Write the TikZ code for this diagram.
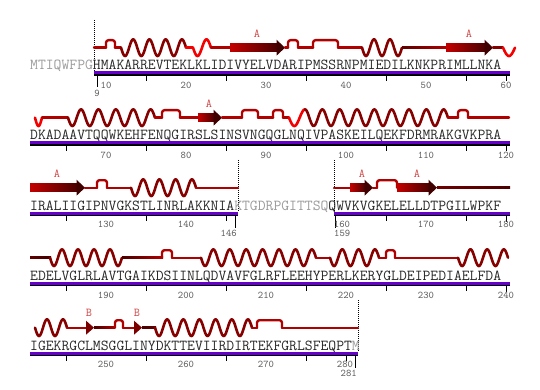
\documentclass[tikz,border=0pt]{standalone}
\usepackage{fontspec}
\definecolor{coilc}{RGB}{176,0,0}
\definecolor{helixc}{RGB}{135,0,0}
\definecolor{redc}{RGB}{245,0,0}
\definecolor{darkc}{RGB}{95,0,0}
\definecolor{strL}{RGB}{195,0,0}
\definecolor{strR}{RGB}{75,0,0}
\definecolor{strH}{RGB}{65,0,0}
\definecolor{barc}{RGB}{102,0,204}
\definecolor{seqc}{RGB}{40,40,40}
\definecolor{greyc}{RGB}{155,155,155}
\definecolor{numc}{RGB}{90,90,90}
\definecolor{labc}{RGB}{210,70,70}
\tikzset{
 coilst/.style={line width=2.4pt, coilc, line cap=round, line join=round},
 helst/.style={line width=2.6pt, line cap=round, line join=round},
 dashv/.style={black, line width=0.7pt, dash pattern=on 1pt off 1pt},
 seqtext/.style={anchor=base west, inner sep=0pt, font=\ttfamily\fontsize{15.24}{16}\selectfont, text=seqc},
 numtext/.style={inner sep=0pt, font=\ttfamily\fontsize{10.2}{11}\selectfont, text=numc},
 sslab/.style={inner sep=0pt, font=\ttfamily\fontsize{12}{13}\selectfont, text=labc},
 tickst/.style={black, line width=0.8pt},
}
\newcommand\cl[4][coilc]{\draw[coilst,#1] (#2,#4) -- (#3,#4);}
\newcommand\clg[5]{\shade[left color=#4,right color=#5] (#1,{#3-1.2}) rectangle (#2,{#3+1.2});}
\newcommand\bmp[3]{\draw[coilst,rounded corners=2.5pt] (#1,#3) -- (#1,{#3-7.5}) -- (#2,{#3-7.5}) -- (#2,#3);}
\newcommand\hlx[6][helixc]{\draw[helst,#1] plot[domain=#4:#5,samples=200,smooth] ({#2+((\x-#4)/(#5-#4))*(#3-#2)},{#6+8.3*sin(\x)});}
\newcommand\strnd[3]{\shade[left color=strL,right color=strR] (#1,{#3-4}) rectangle ({#2-8},{#3+4});
 \fill[strH] ({#2-8.5},{#3-8}) -- (#2,#3) -- ({#2-8.5},{#3+8}) -- cycle;}
\newcommand\trih[3]{\fill[strH!70!red] (#1,{#3-7}) -- (#2,#3) -- (#1,{#3+7}) -- cycle;}
\begin{document}
\begin{tikzpicture}[x=1pt,y=-1pt]
\fill[white] (0,0) rectangle (540,390);
\useasboundingbox (0,0) rectangle (540,390);

% ---------- dashed segment limits
\draw[dashv] (94.5,20) -- (94.5,71.5);
\draw[dashv] (238,160) -- (238,211.5);
\draw[dashv] (334,160) -- (334,211.5);
\draw[dashv] (358,300) -- (358,351.5);

% ---------- Row 1 (yb = 47.7)
\cl{94}{106}{47.7}
\bmp{106}{115}{47.7}
\cl{115}{121}{47.7}
\hlx{121}{186}{0}{1440}{47.7}
\cl[redc]{186}{193}{47.7}
\hlx[redc]{193}{211}{0}{360}{47.7}
\cl{211}{231}{47.7}
\strnd{230}{285}{47.7}
\cl{285}{288}{47.7}
\bmp{288}{298}{47.7}
\cl{298}{313}{47.7}
\bmp{313}{338}{47.7}
\cl{338}{362}{47.7}
\hlx{362}{402}{0}{900}{47.7}
\clg{402}{447}{47.7}{darkc}{coilc}
\strnd{446}{493}{47.7}
\cl[helixc]{493}{503}{47.7}
\hlx[redc]{503}{515}{0}{180}{47.7}
\node[sslab] (a1) at (257,34) {A};
\node[sslab] (a2) at (469,34) {A};

% ---------- Row 2 (yb = 117.7)
\hlx[redc]{35}{42}{0}{180}{117.7}
\cl{42}{68}{117.7}
\hlx{68}{155}{0}{1800}{117.7}
\cl{155}{162}{117.7}
\bmp{162}{180}{117.7}
\cl{180}{199}{117.7}
\strnd{198}{222}{117.7}
\cl{222}{242}{117.7}
\bmp{242}{258}{117.7}
\cl{258}{273}{117.7}
\bmp{273}{283}{117.7}
\cl{283}{289}{117.7}
\hlx[redc]{289}{305}{0}{270}{117.7}
\hlx{305}{448}{270}{3240}{117.7}
\cl{448}{458}{117.7}
\bmp{458}{468}{117.7}
\cl{468}{509}{117.7}
\node[sslab] (a3) at (209,104) {A};

% ---------- Row 3 (yb = 187.7)
\strnd{30}{85}{187.7}
\cl{85}{97}{187.7}
\bmp{97}{107}{187.7}
\cl{107}{131}{187.7}
\hlx{131}{196}{0}{1440}{187.7}
\cl{196}{238}{187.7}
\cl{334}{351}{187.7}
\strnd{350}{373}{187.7}
\cl{373}{377}{187.7}
\bmp{377}{397}{187.7}
\strnd{397}{437}{187.7}
\clg{437}{510}{187.7}{darkc!80!coilc}{darkc!80!black}
\node[sslab] (a4) at (57,174) {A};
\node[sslab] (a5) at (362,174) {A};
\node[sslab] (a6) at (417,174) {A};

% ---------- Row 4 (yb = 257.7)
\clg{30}{51}{257.7}{darkc}{darkc!70!black}
\hlx{50}{122}{0}{1620}{257.7}
\clg{122}{163}{257.7}{darkc!80!black}{coilc}
\bmp{162}{172}{257.7}
\cl{172}{201}{257.7}
\hlx{201}{316}{0}{2520}{257.7}
\cl{316}{330}{257.7}
\hlx{330}{379}{0}{1080}{257.7}
\cl{379}{386}{257.7}
\bmp{386}{395}{257.7}
\cl{395}{458}{257.7}
\hlx{458}{508}{0}{1080}{257.7}

% ---------- Row 5 (yb = 327.7)
\hlx{35}{67}{0}{720}{327.7}
\cl{67}{87}{327.7}
\trih{86}{94}{327.7}
\clg{94}{115}{327.7}{darkc!80!black}{coilc}
\bmp{115}{123}{327.7}
\cl{123}{135}{327.7}
\trih{134}{142}{327.7}
\clg{142}{156}{327.7}{darkc!80!black}{darkc}
\hlx{155}{252}{0}{2160}{327.7}
\cl{252}{257}{327.7}
\bmp{257}{282}{327.7}
\cl{282}{358}{327.7}
\node[sslab] (b1) at (89,313) {B};
\node[sslab] (b2) at (137,313) {B};

% ---------- Sequences
\node[seqtext] (s1) at (30,70) {\textcolor{greyc}{MTIQWFPG}HMAKARREVTEKLKLIDIVYELVDARIPMSSRNPMIEDILKNKPRIMLLNKA};
\node[seqtext] (s2) at (30,140) {DKADAAVTQQWKEHFENQGIRSLSINSVNGQGLNQIVPASKEILQEKFDRMRAKGVKPRA};
\node[seqtext] (s3) at (30,210) {IRALIIGIPNVGKSTLINRLAKKNIA\textcolor{greyc}{KTGDRPGITTSQ}QWVKVGKELELLDTPGILWPKF};
\node[seqtext] (s4) at (30,280) {EDELVGLRLAVTGAIKDSIINLQDVAVFGLRFLEEHYPERLKERYGLDEIPEDIAELFDA};
\node[seqtext] (s5) at (30,350) {IGEKRGCLMSGGLINYDKTTEVIIRDIRTEKFGRLSFEQPT\textcolor{greyc}{M}};

% ---------- Bars
\fill[barc] (94,71.5) rectangle (510,74.5);   \fill[black] (94,74.5) rectangle (510,75.7);
\fill[barc] (30,141.5) rectangle (510,144.5);  \fill[black] (30,144.5) rectangle (510,145.7);
\fill[barc] (30,211.5) rectangle (238,214.5);  \fill[black] (30,214.5) rectangle (238,215.7);
\fill[barc] (334,211.5) rectangle (510,214.5); \fill[black] (334,214.5) rectangle (510,215.7);
\fill[barc] (30,281.5) rectangle (510,284.5);  \fill[black] (30,284.5) rectangle (510,285.7);
\fill[barc] (30,351.5) rectangle (358,354.5);  \fill[black] (30,354.5) rectangle (358,355.7);

% ---------- Ticks
\foreach \x in {146,226,306,386,466} \draw[tickst] (\x,75.7) -- (\x,80.7);
\draw[tickst] (506,75.7) -- (506,81.5);
\foreach \x in {66,146,226,306,386,466} \draw[tickst] (\x,145.7) -- (\x,150.7);
\draw[tickst] (506,145.7) -- (506,151.5);
\foreach \x in {66,146,226,386,466} \draw[tickst] (\x,215.7) -- (\x,220.7);
\draw[tickst] (506,215.7) -- (506,221.5);
\foreach \x in {66,146,226,306,386,466} \draw[tickst] (\x,285.7) -- (\x,290.7);
\draw[tickst] (506,285.7) -- (506,291.5);
\foreach \x in {66,146,226,306,346} \draw[tickst] (\x,355.7) -- (\x,360.7);
% long ticks at segment ends
\draw[tickst] (97,75.7) -- (97,87.5);
\draw[tickst] (235.5,215.7) -- (235.5,227.5);
\draw[tickst] (335.5,215.7) -- (335.5,227.5);
\draw[tickst] (355.5,355.7) -- (355.5,367.5);

% ---------- Numbers
\foreach \x/\t in {106/10,186/20,266/30,346/40,426/50,506/60} \node[numtext] (n\t) at (\x,85) {\t};
\node[numtext] (n9) at (97,93.5) {9};
\foreach \x/\t in {106/70,186/80,266/90,346/100,426/110,506/120} \node[numtext] (n\t) at (\x,155) {\t};
\foreach \x/\t in {106/130,186/140,342/160,426/170,506/180} \node[numtext] (n\t) at (\x,224.5) {\t};
\node[numtext, anchor=east] (n146) at (237,233.5) {146};
\node[numtext, anchor=west] (n159) at (334,233.5) {159};
\foreach \x/\t in {106/190,186/200,266/210,346/220,426/230,506/240} \node[numtext] (n\t) at (\x,295) {\t};
\foreach \x/\t in {106/250,186/260,266/270,345/280} \node[numtext] (n\t) at (\x,364.5) {\t};
\node[numtext, anchor=east] (n281) at (357,373.5) {281};
\end{tikzpicture}
\end{document}
